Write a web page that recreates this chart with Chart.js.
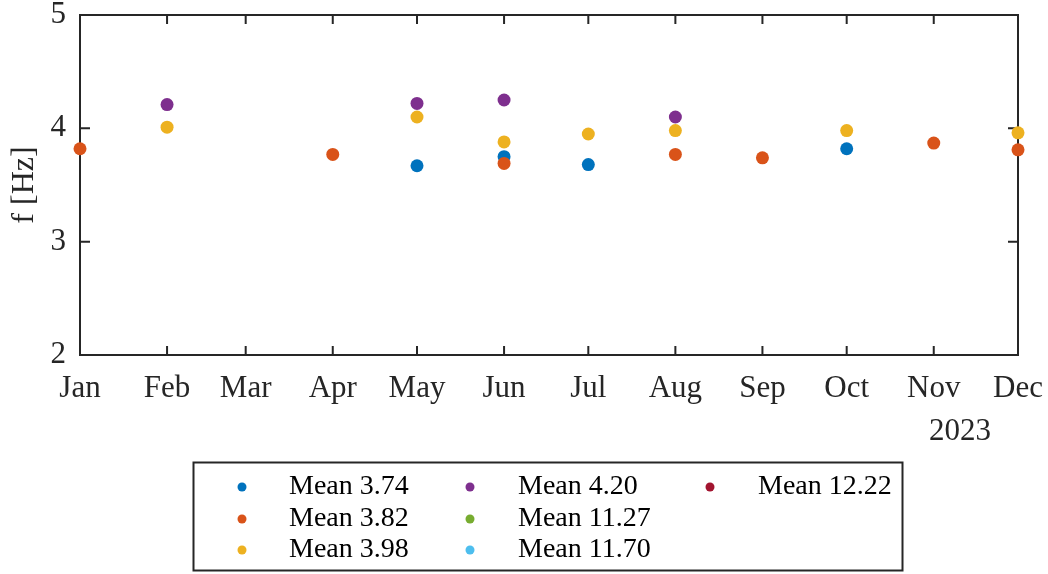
<!DOCTYPE html>
<html>
<head>
<meta charset="utf-8">
<script src="https://cdn.jsdelivr.net/npm/chart.js@4.4.0/dist/chart.umd.min.js"></script>
<style>
    html, body { margin: 0; padding: 0; background: #fff; }
    #wrap { width: 1048px; height: 574px; }
</style>
</head>
<body>
<div id="wrap"><canvas id="freqChart" width="1048" height="574"></canvas></div>
<script>
// Months shown on the x axis (first day of each month, 2023)
const months = ["Jan", "Feb", "Mar", "Apr", "May", "Jun", "Jul", "Aug", "Sep", "Oct", "Nov", "Dec"];
const yearLabel = "2023";
const yTicks = [2, 3, 4, 5];

// Series values per month (null = no point)
const mean374 = [null, null, null, null, 3.67, 3.75, 3.68, null, null, 3.82, null, null];
const mean382 = [3.82, null, null, 3.77, null, 3.69, null, 3.77, 3.74, null, 3.87, 3.81];
const mean398 = [null, 4.01, null, null, 4.10, 3.88, 3.95, 3.98, null, 3.98, null, 3.96];
const mean420 = [null, 4.21, null, null, 4.22, 4.25, null, 4.10, null, null, null, null];
const mean1127 = [null, null, null, null, null, null, null, null, null, null, null, null];
const mean1170 = [null, null, null, null, null, null, null, null, null, null, null, null];
const mean1222 = [null, null, null, null, null, null, null, null, null, null, null, null];

const seriesLabels = ["Mean 3.74", "Mean 3.82", "Mean 3.98", "Mean 4.20", "Mean 11.27", "Mean 11.70", "Mean 12.22"];
const seriesValues = [mean374, mean382, mean398, mean420, mean1127, mean1170, mean1222];
const seriesColors = ["#0072BD", "#D95319", "#EDB120", "#7E2F8E", "#77AC30", "#4DBEEE", "#A2142F"];

const axisColor = "#262626";
const fontFamily = "'Liberation Serif', 'Times New Roman', serif";

// day offset of each month start from Jan 1
const monthDays = months.map((m, i) => (Date.UTC(2023, i, 1) - Date.UTC(2023, 0, 1)) / 86400000);

const datasets = seriesValues.map((vals, i) => ({
    label: seriesLabels[i],
    data: vals.map((v, m) => ({ x: monthDays[m], y: v })).filter(p => p.y !== null),
    backgroundColor: seriesColors[i],
    borderWidth: 0,
    pointRadius: 6.5,
    pointHoverRadius: 6.5,
    showLine: false,
    clip: false,
    order: seriesValues.length - i
}));

// Box, inward ticks, year label and legend
const decorPlugin = {
    id: "decor",
    beforeDatasetsDraw(chart) {
        const ctx = chart.ctx;
        const a = chart.chartArea;
        const xs = chart.scales.x;
        const ys = chart.scales.y;
        ctx.save();
        ctx.strokeStyle = axisColor;
        ctx.lineWidth = 2;
        ctx.strokeRect(a.left, a.top, a.right - a.left, a.bottom - a.top);
        ctx.beginPath();
        monthDays.forEach(d => {
            const px = xs.getPixelForValue(d);
            ctx.moveTo(px, a.bottom); ctx.lineTo(px, a.bottom - 9);
            ctx.moveTo(px, a.top); ctx.lineTo(px, a.top + 9);
        });
        yTicks.forEach(v => {
            const py = ys.getPixelForValue(v);
            ctx.moveTo(a.left, py); ctx.lineTo(a.left + 10, py);
            ctx.moveTo(a.right, py); ctx.lineTo(a.right - 10, py);
        });
        ctx.stroke();
        ctx.restore();
    },
    afterDraw(chart) {
        const ctx = chart.ctx;
        const a = chart.chartArea;
        ctx.save();
        ctx.fillStyle = axisColor;
        ctx.font = "31px " + fontFamily;
        ctx.textAlign = "center";
        ctx.textBaseline = "middle";
        ctx.fillText(yearLabel, a.right - 58, 432);

        // legend
        ctx.font = "28px " + fontFamily;
        ctx.strokeStyle = axisColor;
        ctx.lineWidth = 2;
        ctx.strokeRect(193.5, 462.5, 709, 108);
        const markerX = [242, 470, 710];
        const textX = [289, 518, 758];
        const rowY = [487, 519, 550];
        ctx.textAlign = "left";
        seriesLabels.forEach((label, i) => {
            const col = Math.floor(i / 3);
            const row = i % 3;
            ctx.fillStyle = seriesColors[i];
            ctx.beginPath();
            ctx.arc(markerX[col], rowY[row], 4.5, 0, Math.PI * 2);
            ctx.fill();
            ctx.fillStyle = "#000";
            ctx.fillText(label, textX[col], rowY[row]);
        });
        ctx.restore();
    }
};

new Chart(document.getElementById("freqChart"), {
    type: "scatter",
    data: { datasets: datasets },
    options: {
        responsive: false,
        animation: false,
        devicePixelRatio: 1,
        layout: { padding: { top: 15, right: 30, left: 0, bottom: 0 } },
        plugins: {
            legend: { display: false },
            tooltip: { enabled: false }
        },
        scales: {
            x: {
                type: "linear",
                min: monthDays[0],
                max: monthDays[monthDays.length - 1],
                grid: { display: false, drawTicks: false },
                border: { display: false },
                afterBuildTicks: scale => {
                    scale.ticks = monthDays.map(d => ({ value: d }));
                },
                afterFit: scale => {
                    scale.height = 219;
                    scale.paddingLeft = 0;
                    scale.paddingRight = 0;
                },
                ticks: {
                    autoSkip: false,
                    maxRotation: 0,
                    padding: 15,
                    color: axisColor,
                    font: { family: fontFamily, size: 31 },
                    callback: value => months[monthDays.indexOf(value)]
                }
            },
            y: {
                min: 2,
                max: 5,
                grid: { display: false, drawTicks: false },
                border: { display: false },
                afterBuildTicks: scale => {
                    scale.ticks = yTicks.map(v => ({ value: v }));
                },
                afterFit: scale => {
                    scale.width = 80;
                    scale.paddingTop = 0;
                    scale.paddingBottom = 0;
                },
                title: {
                    display: true,
                    text: "f [Hz]",
                    color: axisColor,
                    font: { family: fontFamily, size: 32 },
                    padding: { top: 5, bottom: 0 }
                },
                ticks: {
                    padding: 14,
                    color: axisColor,
                    font: { family: fontFamily, size: 31 }
                }
            }
        }
    },
    plugins: [decorPlugin]
});
</script>
</body>
</html>
